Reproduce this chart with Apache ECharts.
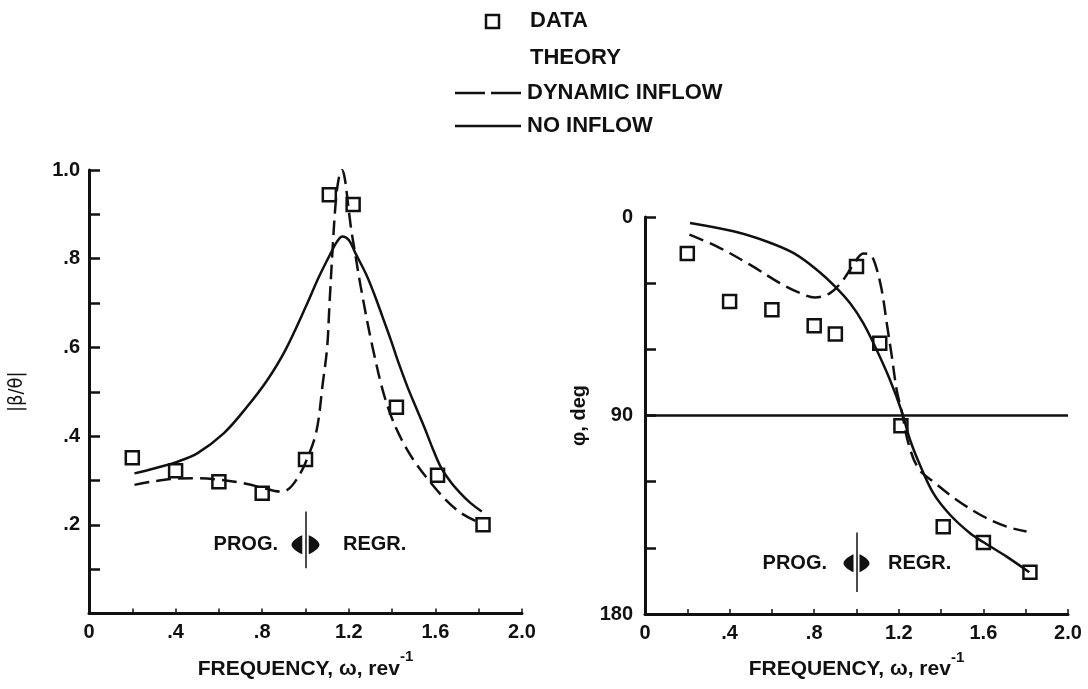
<!DOCTYPE html>
<html>
<head>
<meta charset="utf-8">
<script src="https://cdn.jsdelivr.net/npm/echarts@6/dist/echarts.min.js"></script>
<style>
  html, body { margin: 0; padding: 0; background: #fff; }
  #chart { width: 1088px; height: 689px; }
</style>
</head>
<body>
<div id="chart"></div>
<script>
// Rotor blade flapping response to cyclic pitch: amplitude ratio and phase vs. excitation frequency

// ---- tick labels ----
const freqTickValues = [0, 0.4, 0.8, 1.2, 1.6, 2.0];
const freqTickLabels = ['0', '.4', '.8', '1.2', '1.6', '2.0'];
const ampTickValues = [0.2, 0.4, 0.6, 0.8, 1.0];
const ampTickLabels = ['.2', '.4', '.6', '.8', '1.0'];
const phaseTickValues = [0, 90, 180];
const phaseTickLabels = ['0', '90', '180'];

// ---- amplitude |beta/theta| ----
const ampDataFreq = [0.2, 0.4, 0.6, 0.8, 1.0, 1.11, 1.22, 1.42, 1.61, 1.82];
const ampData     = [0.351, 0.322, 0.297, 0.271, 0.347, 0.944, 0.922, 0.465, 0.312, 0.2];

const ampDynFreq = [0.21, 0.3, 0.4, 0.5, 0.6, 0.7, 0.8, 0.88, 0.92, 0.96, 1.0, 1.05, 1.08, 1.1, 1.11, 1.125, 1.14, 1.155, 1.168, 1.18, 1.195, 1.21, 1.23, 1.255, 1.31, 1.38, 1.47, 1.59, 1.7, 1.8];
const ampDyn     = [0.29, 0.298, 0.304, 0.305, 0.302, 0.295, 0.284, 0.275, 0.28, 0.303, 0.34, 0.41, 0.52, 0.6, 0.69, 0.82, 0.93, 0.985, 1.0, 0.985, 0.93, 0.87, 0.81, 0.737, 0.6, 0.466, 0.369, 0.288, 0.233, 0.205];

const ampNoInfFreq = [0.21, 0.3, 0.406, 0.5, 0.622, 0.73, 0.823, 0.907, 1.008, 1.06, 1.116, 1.145, 1.17, 1.2, 1.231, 1.28, 1.316, 1.355, 1.394, 1.43, 1.471, 1.51, 1.548, 1.585, 1.625, 1.67, 1.714, 1.76, 1.814];
const ampNoInf     = [0.316, 0.327, 0.342, 0.361, 0.406, 0.466, 0.526, 0.594, 0.699, 0.757, 0.812, 0.838, 0.85, 0.842, 0.812, 0.765, 0.722, 0.67, 0.617, 0.565, 0.511, 0.465, 0.421, 0.375, 0.33, 0.297, 0.272, 0.25, 0.23];

// ---- phase phi, deg ----
const phaseDataFreq = [0.2, 0.4, 0.6, 0.8, 0.9, 1.0, 1.11, 1.21, 1.41, 1.6, 1.82];
const phaseData     = [16.6, 38.3, 42.1, 49.3, 53.1, 22.4, 57.2, 94.7, 140.4, 147.6, 161.1];

const phaseDynFreq = [0.21, 0.339, 0.496, 0.638, 0.733, 0.804, 0.875, 0.938, 0.985, 1.032, 1.064, 1.087, 1.119, 1.143, 1.167, 1.19, 1.214, 1.245, 1.292, 1.363, 1.474, 1.6, 1.71, 1.804];
const phaseDyn     = [8, 13.3, 21.6, 30, 34.5, 36.5, 34.5, 28.4, 21.6, 16.6, 17.1, 20.9, 33, 48.1, 63.2, 78.4, 88.2, 102.5, 113.9, 120, 128.3, 135.8, 140.4, 142.6];

const phaseNoInfFreq = [0.213, 0.418, 0.575, 0.701, 0.812, 0.906, 0.969, 1.032, 1.095, 1.158, 1.214, 1.253, 1.3, 1.363, 1.442, 1.537, 1.603, 1.71, 1.817];
const phaseNoInf     = [2.7, 6.5, 11.1, 16.3, 23.9, 32.2, 39, 48.1, 60.2, 73.8, 88.2, 101, 112.4, 125.2, 135, 143.4, 147.6, 154, 161.1];

// boundary between progressing and regressing modes
const modeBoundary = 1.0;
const ampBoundarySpan = [0.102, 0.23];
const phaseBoundarySpan = [143, 170];
const ampBoundaryLabelY = 0.155;
const phaseBoundaryLabelY = 157;

const zip = (xs, ys) => xs.map((x, i) => [x, ys[i]]);
const pickLabel = (values, labels) => v => {
  const i = values.findIndex(t => Math.abs(t - v) < 1e-6);
  return i >= 0 ? labels[i] : '';
};

const INK = '#111';
const FONT = '"Liberation Sans", Arial, sans-serif';
const tickFont = { color: INK, fontFamily: FONT, fontWeight: 'bold', fontSize: 20 };

function xAxisCfg(gridIndex) {
  return {
    type: 'value', gridIndex, min: 0, max: 2.0, interval: 0.2,
    axisLine: { onZero: false, lineStyle: { color: INK, width: 3 } },
    axisTick: { inside: true, length: 5, lineStyle: { color: INK, width: 1.5 } },
    splitLine: { show: false },
    axisLabel: Object.assign({ margin: 9, formatter: pickLabel(freqTickValues, freqTickLabels) }, tickFont),
    name: '{a|FREQUENCY, ω, rev}{s|-1}',
    nameLocation: 'middle', nameGap: 36,
    nameTextStyle: {
      rich: {
        a: { fontFamily: FONT, fontWeight: 'bold', fontSize: 21, color: INK, lineHeight: 30, verticalAlign: 'bottom' },
        s: { fontFamily: FONT, fontWeight: 'bold', fontSize: 15, color: INK, lineHeight: 30, verticalAlign: 'top' }
      }
    }
  };
}

const chart = echarts.init(document.getElementById('chart'));

const markLabel = (text, pos, dist) => ({
  show: true, formatter: text, position: pos, distance: dist,
  color: INK, fontFamily: FONT, fontWeight: 'bold', fontSize: 20
});
// pair of opposed wedges on either side of the mode boundary line
const wedgePair = 'path://M0 10 C0 7 4 3 10 0 L10 20 C4 17 0 13 0 10 Z M16 0 C22 3 26 7 26 10 C26 13 22 17 16 20 Z';

function boundaryMarks(y, progDist, regrDist, arrowSize) {
  return {
    silent: true,
    data: [
      { coord: [modeBoundary, y], symbol: wedgePair, symbolSize: arrowSize, itemStyle: { color: INK, borderWidth: 0, opacity: 1 } },
      { coord: [modeBoundary, y], symbol: 'circle', symbolSize: 1, itemStyle: { color: 'rgba(0,0,0,0)', borderWidth: 0 }, label: markLabel('PROG.', 'left', progDist) },
      { coord: [modeBoundary, y], symbol: 'circle', symbolSize: 1, itemStyle: { color: 'rgba(0,0,0,0)', borderWidth: 0 }, label: markLabel('REGR.', 'right', regrDist) }
    ]
  };
}

const dataStyle = {
  type: 'scatter', symbol: 'rect', symbolSize: 13,
  itemStyle: { color: 'rgba(0,0,0,0)', borderColor: INK, borderWidth: 2.5, opacity: 1 }, z: 5
};
const dashStyle = { color: INK, width: 2.5, type: [15, 7] };
const solidStyle = { color: INK, width: 2.5, type: 'solid' };

chart.setOption({
  animation: false,
  backgroundColor: '#fff',
  grid: [
    { left: 89, top: 170, width: 433, height: 443.5 },
    { left: 645, top: 217, width: 423, height: 397 }
  ],
  xAxis: [xAxisCfg(0), xAxisCfg(1)],
  yAxis: [
    {
      type: 'value', gridIndex: 0, min: 0, max: 1.0, interval: 0.1,
      axisLine: { show: true, lineStyle: { color: INK, width: 3 } },
      axisTick: { show: true, inside: true, length: 11, lineStyle: { color: INK, width: 2.5 } },
      splitLine: { show: false },
      axisLabel: Object.assign({ margin: 9, formatter: pickLabel(ampTickValues, ampTickLabels) }, tickFont),
      name: '|β/θ|', nameLocation: 'middle', nameRotate: 90, nameGap: 62,
      nameTextStyle: { color: INK, fontFamily: '"DejaVu Sans Condensed", "Liberation Sans Narrow", sans-serif', fontSize: 20 }
    },
    {
      type: 'value', gridIndex: 1, min: 0, max: 180, interval: 30, inverse: true,
      axisLine: { show: true, onZero: false, lineStyle: { color: INK, width: 3 } },
      axisTick: { show: true, inside: true, length: 11, lineStyle: { color: INK, width: 2.5 } },
      splitLine: { show: false },
      axisLabel: Object.assign({ margin: 12, formatter: pickLabel(phaseTickValues, phaseTickLabels) }, tickFont),
      name: 'φ, deg', nameLocation: 'middle', nameRotate: 90, nameGap: 56,
      nameTextStyle: { color: INK, fontFamily: FONT, fontWeight: 'bold', fontSize: 20 }
    }
  ],
  series: [
    Object.assign({ name: 'DATA', xAxisIndex: 0, yAxisIndex: 0, data: zip(ampDataFreq, ampData),
      markPoint: boundaryMarks(ampBoundaryLabelY, 27, 37, [28, 19]) }, dataStyle),
    { name: 'DYNAMIC INFLOW', type: 'line', xAxisIndex: 0, yAxisIndex: 0, showSymbol: false, smooth: 0.35,
      data: zip(ampDynFreq, ampDyn), lineStyle: dashStyle,
      markLine: { silent: true, symbol: ['none', 'none'], label: { show: false },
        lineStyle: { color: INK, width: 1.5, type: 'solid' },
        data: [[{ coord: [modeBoundary, ampBoundarySpan[0]] }, { coord: [modeBoundary, ampBoundarySpan[1]] }]] } },
    { name: 'NO INFLOW', type: 'line', xAxisIndex: 0, yAxisIndex: 0, showSymbol: false, smooth: 0.35,
      data: zip(ampNoInfFreq, ampNoInf), lineStyle: solidStyle },

    Object.assign({ name: 'DATA', xAxisIndex: 1, yAxisIndex: 1, data: zip(phaseDataFreq, phaseData),
      markPoint: boundaryMarks(phaseBoundaryLabelY, 29, 31, [26, 18]) }, dataStyle),
    { name: 'DYNAMIC INFLOW', type: 'line', xAxisIndex: 1, yAxisIndex: 1, showSymbol: false, smooth: 0.35,
      data: zip(phaseDynFreq, phaseDyn), lineStyle: dashStyle,
      markLine: { silent: true, symbol: ['none', 'none'], label: { show: false },
        lineStyle: { color: INK, width: 1.5, type: 'solid' },
        data: [[{ coord: [modeBoundary, phaseBoundarySpan[0]] }, { coord: [modeBoundary, phaseBoundarySpan[1]] }]] } },
    { name: 'NO INFLOW', type: 'line', xAxisIndex: 1, yAxisIndex: 1, showSymbol: false, smooth: 0.35,
      data: zip(phaseNoInfFreq, phaseNoInf), lineStyle: solidStyle,
      markLine: { silent: true, symbol: ['none', 'none'], label: { show: false },
        lineStyle: { color: INK, width: 2.5, type: 'solid' },
        data: [{ yAxis: 90 }] } }
  ],
  graphic: [
    // key
    { type: 'rect', shape: { x: 486, y: 15, width: 13, height: 13 }, style: { fill: 'none', stroke: INK, lineWidth: 2.5 } },
    { type: 'text', x: 530, y: 21, style: { text: 'DATA', fill: INK, font: 'bold 22px ' + FONT, verticalAlign: 'middle' } },
    { type: 'text', x: 530, y: 58, style: { text: 'THEORY', fill: INK, font: 'bold 22px ' + FONT, verticalAlign: 'middle' } },
    { type: 'line', shape: { x1: 455, y1: 93, x2: 521, y2: 93 }, style: { stroke: INK, lineWidth: 2.5, lineDash: [30, 6] } },
    { type: 'text', x: 527, y: 93, style: { text: 'DYNAMIC INFLOW', fill: INK, font: 'bold 22px ' + FONT, verticalAlign: 'middle' } },
    { type: 'line', shape: { x1: 455, y1: 126, x2: 521, y2: 126 }, style: { stroke: INK, lineWidth: 2.5 } },
    { type: 'text', x: 527, y: 126, style: { text: 'NO INFLOW', fill: INK, font: 'bold 22px ' + FONT, verticalAlign: 'middle' } }
  ]
});
</script>
</body>
</html>
